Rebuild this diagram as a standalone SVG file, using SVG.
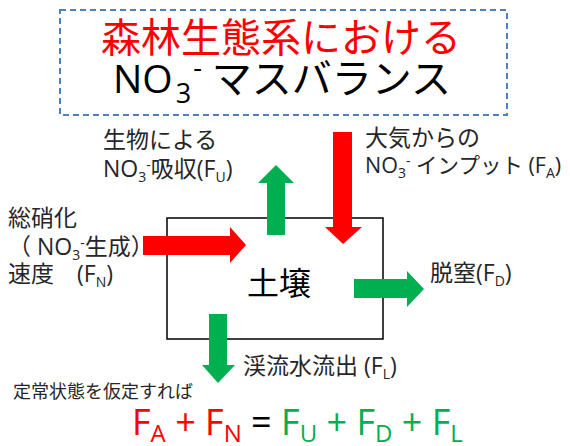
<svg xmlns="http://www.w3.org/2000/svg" width="570" height="446" viewBox="0 0 570 446">
<style>
text{font-family:"Open Sans","Noto Sans CJK JP",sans-serif;}
.lbl{font-size:23px;fill:#262626;}
.sub{font-size:14px;}
.red{fill:#FF0000;}
.grn{fill:#00B050;}
</style>
<rect width="570" height="446" fill="#ffffff"/>
<g id="title">
<rect x="60" y="10" width="447" height="105" fill="none" stroke="#4F81BD" stroke-width="2" stroke-dasharray="6,4"/>
<text x="281" y="52" text-anchor="middle" font-size="40" fill="#FF0000">森林生態系における</text>
<text x="113" y="93" font-size="39" fill="#000">NO<tspan font-size="27" dy="10" dx="3">3</tspan><tspan font-size="27" dy="-26" dx="2">-</tspan><tspan dy="16" dx="10" font-size="40">マスバランス</tspan></text>
</g>
<g id="soil">
<rect x="167" y="218" width="216" height="121" fill="#fff" stroke="#000" stroke-width="1.5"/>
<text x="279" y="295" text-anchor="middle" font-size="32" fill="#000">土壌</text>
</g>
<g id="connectors">
<polygon class="red" points="143,236 230,236 230,227 246,245 230,263 230,255 143,255"/>
<polygon class="grn" points="267,235 267,183 258,183 276,165 294,183 285,183 285,235"/>
<polygon class="red" points="333,132 352,132 352,227 362,227 343,244 325,227 333,227"/>
<polygon class="grn" points="354,279 407,279 407,271 424,289 407,307 407,298 354,298"/>
<polygon class="grn" points="209,314 227,314 227,365 235,365 218,383 202,365 209,365"/>
</g>
<g id="label-uptake">
<text class="lbl" x="103" y="148">生物による</text>
<text class="lbl" x="103" y="177">NO<tspan class="sub" dy="5">3</tspan><tspan class="sub" dy="-12">-</tspan><tspan dy="7">吸収(F</tspan><tspan class="sub" dy="5">U</tspan><tspan dy="-5">)</tspan></text>
</g>
<g id="label-nitrification">
<text class="lbl" x="8" y="226">総硝化</text>
<text class="lbl" x="8" y="255">（ NO<tspan class="sub" dy="5">3</tspan><tspan class="sub" dy="-12">-</tspan><tspan dy="7">生成）</tspan></text>
<text class="lbl" x="8" y="282">速度　(F<tspan class="sub" dy="5">N</tspan><tspan dy="-5">)</tspan></text>
</g>
<g id="label-input">
<text class="lbl" x="365" y="146">大気からの</text>
<text class="lbl" x="365" y="173" style="font-size:21.5px">NO<tspan class="sub" dy="5">3</tspan><tspan class="sub" dy="-12">-</tspan><tspan dy="7"> インプット (F</tspan><tspan class="sub" dy="5">A</tspan><tspan dy="-5">)</tspan></text>
</g>
<g id="label-denitrification">
<text class="lbl" x="430" y="281">脱窒(F<tspan class="sub" dy="5">D</tspan><tspan dy="-5">)</tspan></text>
</g>
<g id="label-leaching">
<text class="lbl" x="243" y="374">渓流水流出 (F<tspan class="sub" dy="5">L</tspan><tspan dy="-5">)</tspan></text>
</g>
<g id="equation">
<text x="13" y="398" font-size="18" fill="#262626">定常状態を仮定すれば</text>
<text x="132" y="435" font-size="36"><tspan fill="#FF0000">F</tspan><tspan fill="#FF0000" font-size="24" dy="7">A</tspan><tspan fill="#FF0000" dy="-7"> + F</tspan><tspan fill="#FF0000" font-size="24" dy="7">N</tspan><tspan fill="#000" dy="-7"> = </tspan><tspan fill="#00B050">F</tspan><tspan fill="#00B050" font-size="24" dy="7">U</tspan><tspan fill="#00B050" dy="-7"> + F</tspan><tspan fill="#00B050" font-size="24" dy="7">D</tspan><tspan fill="#00B050" dy="-7"> + F</tspan><tspan fill="#00B050" font-size="24" dy="7">L</tspan></text>
</g>
</svg>
